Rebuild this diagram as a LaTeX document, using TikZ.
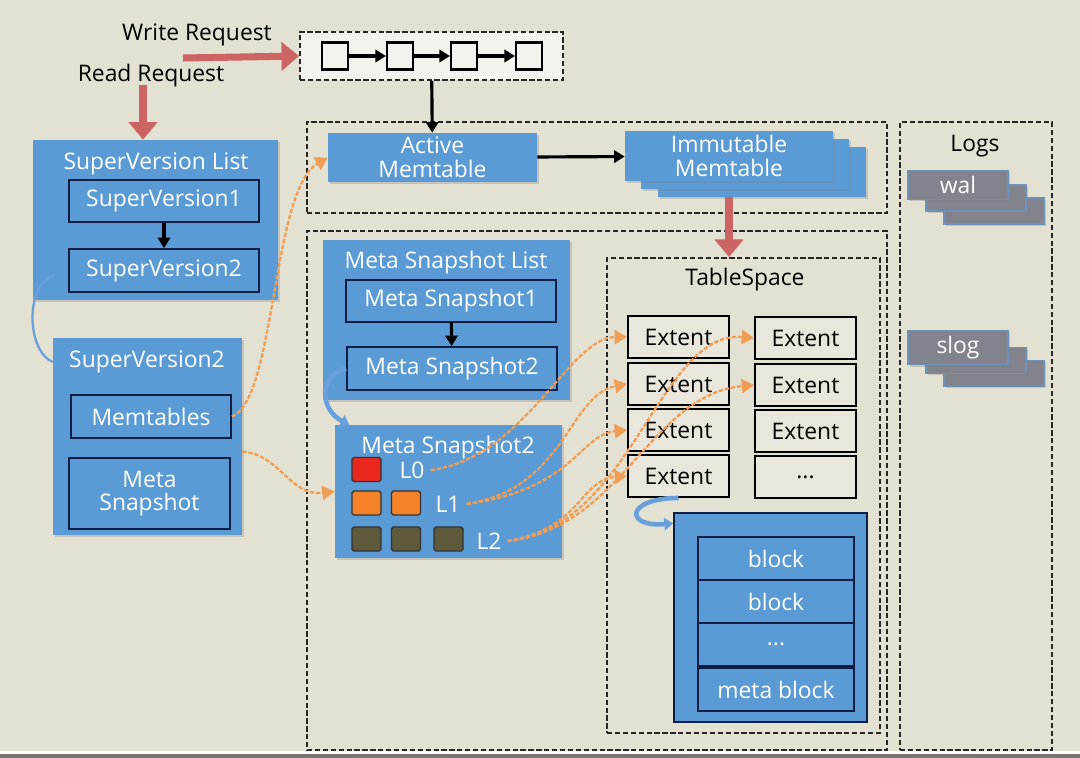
\documentclass[tikz,border=0pt]{standalone}
\usepackage{fontspec}
\setmainfont{Open Sans}
\usetikzlibrary{arrows.meta,shadows,positioning}
\definecolor{paper}{RGB}{227,225,210}
\definecolor{edgegray}{RGB}{120,118,110}
\definecolor{boxblue}{RGB}{91,155,213}
\definecolor{navy}{RGB}{15,30,70}
\definecolor{queuebg}{RGB}{243,242,237}
\definecolor{extfill}{RGB}{233,231,219}
\definecolor{reqred}{RGB}{205,100,100}
\definecolor{refor}{RGB}{238,140,55}
\definecolor{linkblue}{RGB}{105,160,220}
\definecolor{loggray}{RGB}{130,131,140}
\definecolor{logedge}{RGB}{110,145,185}
\definecolor{lvlzero}{RGB}{235,40,30}
\definecolor{lvlone}{RGB}{245,130,40}
\definecolor{lvltwo}{RGB}{95,90,60}
\newcommand{\ellip}{...}
\tikzset{
  sz/.style 2 args={minimum width=#1*0.02cm, minimum height=#2*0.02cm},
  grp/.style={draw=black!85, line width=1.1pt, dash pattern=on 3pt off 1.5pt, inner sep=0},
  bluebox/.style={fill=boxblue, text=white, inner sep=0,
    drop shadow={shadow xshift=1.2pt, shadow yshift=-1.2pt, opacity=.3}},
  inner/.style={draw=navy, line width=1pt, fill=boxblue, text=white, inner sep=0},
  title/.style={text=white},
  cell/.style={draw=black, line width=1.2pt, fill=queuebg, sz={26}{27}},
  push/.style={-{Triangle[length=6pt,width=7pt]}, line width=1.8pt, black},
  flow/.style={-{Triangle[length=10pt,width=16pt]}, line width=4pt, reqred},
  ref/.style={-{Triangle[length=7pt,width=8pt]}, refor!85, line width=1.3pt, dash pattern=on 2.5pt off 1pt},
  link/.style={draw=linkblue, line width=1.3pt},
  curl/.style={draw=linkblue, line width=2.6pt, -{Triangle[length=5pt,width=7pt]}},
  extent/.style={draw=black, line width=1.1pt, fill=extfill, sz={101}{42}, text=black},
  blockbox/.style={draw=navy, line width=1pt, fill=boxblue, text=white, sz={156}{43}},
  lvl/.style={draw=black!80, line width=0.8pt, sz={29}{24}, rounded corners=1pt},
  logbox/.style={fill=loggray, draw=logedge, line width=0.8pt, sz={100}{26}, text=white,
    drop shadow={shadow xshift=1pt, shadow yshift=-1pt, opacity=.3}}
}
\begin{document}
\begin{tikzpicture}[x=0.02cm, y=-0.02cm, font=\fontsize{13}{13.5}\selectfont]
\fill[paper] (0,0) rectangle (1080,758);
\useasboundingbox (0,0) rectangle (1080,758);
\fill[white] (0,751) rectangle (1080,754);
\fill[edgegray] (0,754) rectangle (1080,758);

\node[grp, sz={580}{91}] (memGrp) at (597,167.5) {};
\node[grp, sz={580}{519}] (diskGrp) at (597,490.5) {};
\node[grp, sz={152}{628}] (logGrp) at (976,436) {};
\node[grp, sz={273}{475}] (tsGrp) at (743.5,495.5) {};
\node (logTitle) at (975,146) {Logs};
\node (tsTitle) at (745,280) {TableSpace};

\node (wReq) at (197,35) {Write Request};
\node (rReq) at (151,76) {Read Request};
\node[grp, fill=queuebg, sz={263}{48}] (queue) at (431.5,56) {};
\foreach \i/\x in {1/335,2/400,3/464,4/529}
  \node[cell] (q\i) at (\x,56) {};
\foreach \i/\j in {1/2,2/3,3/4}
  \draw[push] (q\i) -- (q\j);
\coordinate (wSrc) at (183,58);
\coordinate (rSrc) at (143,85);
\draw[flow] (wSrc) -- (queue.west);

\node[bluebox, sz={209}{49}, align=center] (active) at (432.5,157.5) {Active\\Memtable};
\node[bluebox, sz={208}{50}] (immC) at (762,172) {};
\node[bluebox, sz={208}{50}] (immB) at (745,164) {};
\node[bluebox, sz={208}{50}, align=center] (imm) at (729,156) {Immutable\\Memtable};
\draw[push] (queue) -- (active);
\draw[push] (active) -- (imm);
\draw[flow] (imm.south |- immC.south) -- (tsGrp.north -| imm.south);

\foreach \n/\y in {wal/185,slog/347.5}{
  \node[logbox] (\n3) at (994,\y+26) {};
  \node[logbox] (\n2) at (976,\y+13) {};
  \node[logbox] (\n1) at (958,\y) {\n};
}

\node[bluebox, sz={245}{160}] (svList) at (155.5,220) {};
\node[title] (svListTitle) at (156,164) {SuperVersion List};
\node[inner, sz={190}{42}] (svOne) at (164,201) {SuperVersion1};
\node[inner, sz={190}{43}] (svTwo) at (164,270.5) {SuperVersion2};
\draw[push] (svOne) -- (svTwo);
\draw[flow] (rSrc) -- (rSrc |- svList.north);

\node[bluebox, sz={189}{197}] (svCur) at (147.5,436.5) {};
\node[title] (svCurTitle) at (147,362) {SuperVersion2};
\node[inner, sz={160}{43}] (memRef) at (151,416.5) {Memtables};
\node[inner, sz={161}{71}, align=center] (metaRef) at (149.5,493.5) {Meta\\Snapshot};
\draw[link, shorten <=0.28cm] (svTwo.west) .. controls +(-45,15) and +(-25,-10) .. (svCur.west |- svCurTitle);

\node[bluebox, sz={247}{160}] (msList) at (446.5,320) {};
\node[title] (msListTitle) at (446,263) {Meta Snapshot List};
\node[inner, sz={210}{42}] (msOne) at (451,301) {Meta Snapshot1};
\node[inner, sz={210}{43}] (msTwo) at (452,368.5) {Meta Snapshot2};
\draw[push] (msOne) -- (msTwo);

\node[bluebox, sz={227}{133}] (msCur) at (448.5,491.5) {};
\node[title] (msCurTitle) at (448,448) {Meta Snapshot2};
\node[lvl, fill=lvlzero] (sq0) at (366.5,469.5) {};
\foreach \i/\x in {1/366.5,2/406}
  \node[lvl, fill=lvlone] (sq1\i) at (\x,503) {};
\foreach \i/\x in {1/366.5,2/406,3/448.5}
  \node[lvl, fill=lvltwo] (sq2\i) at (\x,539) {};
\node[title] (lZero) at (412,470) {L0};
\node[title] (lOne) at (448,504) {L1};
\node[title] (lTwo) at (489,541) {L2};
\draw[curl] (msTwo.west) .. controls +(-30,8) and +(-28,-14) .. (msCur.146);

\draw[ref] (memRef.east) .. controls +(44,-17) and +(-56,33) .. (active.west);
\draw[ref] (svCur.-9) .. controls +(38,3) and +(-45,5) .. (msCur.west);

\foreach \i/\y in {1/337,2/384,3/430,4/476}
  \node[extent] (extL\i) at (678.5,\y) {Extent};
\foreach \i/\y/\t in {1/338/Extent,2/385/Extent,3/431/Extent,4/477/\ellip}
  \node[extent] (extR\i) at (805.5,\y) {\t};

\node[fill=boxblue, draw=navy, line width=1pt, sz={193}{209}] (sst) at (770.5,617.5) {};
\foreach \i/\y/\t in {1/558.5/block,2/601.5/block,3/644.5/\ellip,4/689.5/meta block}
  \node[blockbox] (blk\i) at (776,\y) {\t};
\draw[curl] (extL4.south) .. controls +(-53,0) and +(-49,4) .. (sst.136);

\draw[ref] (lZero.east) .. controls +(95,-12) and +(-58,0) .. (extL1.west);
\draw[ref] (lOne.east) .. controls +(98,-15) and +(-58,11) .. (extL2.west);
\draw[ref] (lOne.east) .. controls +(108,-15) and +(-48,5) .. (extL3.west);
\draw[ref] (lTwo.east) .. controls +(75,-13) and +(-48,4) .. (extL4.west);
\draw[ref] (lTwo.east) .. controls +(125,-13) and +(-95,-8) .. (extR1.west);
\draw[ref] (lTwo.east) .. controls +(115,-13) and +(-105,10) .. (extR2.west);
\end{tikzpicture}
\end{document}
